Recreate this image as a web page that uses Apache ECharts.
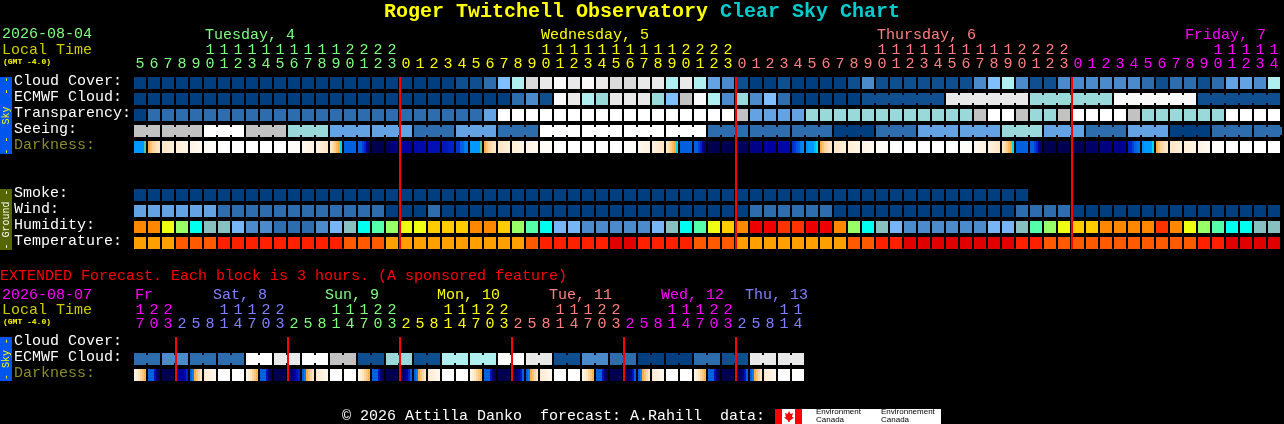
<!DOCTYPE html>
<html><head><meta charset="utf-8">
<style>html,body{margin:0;padding:0;background:#000}#c{width:1284px;height:424px}</style>
<script src="https://cdn.jsdelivr.net/npm/echarts@6/dist/echarts.min.js"></script>
</head><body><div id="c"></div>
<script>
const rowNames=['Cloud Cover:','ECMWF Cloud:','Transparency:','Seeing:','Darkness:',' ','  ','Smoke:','Wind:','Humidity:','Temperature:'];
const hourDigits=[5,6,7,8,9,0,1,2,3,4,5,6,7,8,9,0,1,2,3,0,1,2,3,4,5,6,7,8,9,0,1,2,3,4,5,6,7,8,9,0,1,2,3,0,1,2,3,4,5,6,7,8,9,0,1,2,3,4,5,6,7,8,9,0,1,2,3,0,1,2,3,4,5,6,7,8,9,0,1,2,3,4];
const hourTens=['','','','','',1,1,1,1,1,1,1,1,1,1,2,2,2,2,'','','','','','','','','','',1,1,1,1,1,1,1,1,1,1,2,2,2,2,'','','','','','','','','','',1,1,1,1,1,1,1,1,1,1,2,2,2,2,'','','','','','','','','','',1,1,1,1,1];
const midnights=[19,43,67];
const dayLabels=['Tuesday, 4','Wednesday, 5','Thursday, 6','Friday, 7'];
const dayLabelCells=[5,29,53,75];
const cloudCover=[0,0,0,0,0,0,0,0,0,0,0,0,0,0,0,0,0,0,0,0,0,0,0,1,1,2,5,7,9,10,11,10,11,10,9,9,10,10,7,10,7,4,3,1,0,0,1,0,0,0,0,1,3,1,1,1,1,1,1,1,3,5,7,3,1,1,3,3,3,3,3,3,2,1,2,2,1,2,4,4,3,7];
const ecmwfCloud=[0,0,0,0,0,0,0,0,0,0,0,0,0,0,0,0,0,0,0,0,0,0,0,0,0,0,0,2,3,1,11,10,7,6,10,10,10,6,5,8,11,7,3,6,3,5,2,0,0,0,0,0,1,1,1,1,1,1,10,10,10,10,10,10,6,6,6,6,6,6,11,11,11,11,11,11,1,1,1,1,1,1];
const ecmwfBlocks=[1,1,1,1,1,1,1,1,1,1,1,1,1,1,1,1,1,1,1,1,1,1,1,1,1,1,1,1,1,1,1,1,1,1,1,1,1,1,1,1,1,1,1,1,1,1,1,1,1,1,1,1,6,6,6,6,6];
const transparency=[0,2,2,2,2,2,2,2,2,2,2,2,2,2,2,2,2,2,2,2,2,2,2,2,2,4,12,12,12,12,12,12,12,12,12,12,12,12,12,12,12,12,12,8,4,4,4,4,6,6,6,6,6,6,6,6,6,6,6,6,8,12,12,8,6,6,8,12,12,12,12,8,6,6,6,6,6,6,12,12,12,12];
const seeing=[8,8,8,8,8,12,12,12,8,8,8,6,6,6,4,4,4,4,4,4,2,2,2,4,4,4,2,2,2,12,12,12,12,12,12,12,12,12,12,12,12,2,2,2,2,2,2,2,2,2,0,0,0,2,2,2,4,4,4,4,4,4,6,6,6,4,4,4,2,2,2,4,4,4,0,0,0,2,2,2,2,2];
const seeingBlocks=[2,3,3,3,3,3,3,3,3,3,3,3,3,3,3,3,3,3,3,3,3,3,3,3,3,3,3,3,2];
const smoke=[0,0,0,0,0,0,0,0,0,0,0,0,0,0,0,0,0,0,0,0,0,0,0,0,0,0,0,0,0,0,0,0,0,0,0,0,0,0,0,0,0,0,0,0,0,0,0,0,0,0,0,0,0,0,0,0,0,0,0,0,0,0,0,0];
const wind=[4,4,4,4,4,4,2,2,2,2,2,2,2,2,2,2,2,2,0,0,0,2,0,0,0,0,0,0,0,0,0,0,0,0,0,0,0,0,0,0,0,0,0,0,2,2,2,2,2,2,0,0,0,0,0,0,0,0,0,0,0,0,0,2,2,2,2,0,0,0,0,0,0,0,0,0,0,0,0,0,0,0];
const humidity=[80,80,70,65,55,50,50,45,40,40,35,35,35,40,45,50,55,60,65,70,70,75,75,75,80,80,75,65,60,55,45,45,40,40,40,40,40,45,50,55,60,70,75,80,95,95,85,85,95,95,80,65,55,50,45,40,40,40,40,40,40,45,45,50,60,65,70,75,75,80,80,80,80,85,80,70,65,60,55,55,50,50];
const temperature=[25,25,25,23,23,23,21,21,21,21,21,21,21,21,21,23,23,23,25,25,25,25,25,25,25,25,25,25,23,21,21,21,21,21,19,19,21,21,21,21,23,23,23,25,25,25,25,25,25,25,25,23,23,21,21,19,19,19,19,19,19,19,19,21,21,23,23,23,23,23,23,23,23,23,23,23,21,21,19,19,19,19];
const darkness=[
[6,6,6,6,6,4.5],[3.6,3,2.6,2.3,2.1,2],[2,2,1.8,1.6,1.5,1.4],[1.4,1.3,1.2,1.1,1,1],[1,.9,.8,.7,.6,.5],[.3],[0],[0],[0],[0],[0],[.2],
[.6,.7,.8,.9,1,1.1],[1.2,1.4,1.5,1.6,1.8,2],[2,2.3,2.8,3.3,3.8,5],[7],[7,7,7.5,8,9,9.6],[10],[9.8,9.7,9.6,9.5,9.4,9.3],[9],[8.7],[8.5],[8.3,8.3,8.2,8.1,8,8],[7.7,7.7,7,7,6.5,6.5],
[6,6,6,6,6,4.5],[3.6,3,2.6,2.3,2.1,2],[2,2,1.8,1.6,1.5,1.4],[1.4,1.3,1.2,1.1,1,1],[1,.9,.8,.7,.6,.5],[.3],[0],[0],[0],[0],[0],[.2],
[.6,.7,.8,.9,1,1.1],[1.2,1.4,1.5,1.6,1.8,2],[2,2.3,2.8,3.3,3.8,5],[7],[7,7,7.5,8,9,9.6],[10],[10],[9.8],[9.3],[9],[8.8],[7.8,7.6,7.2,7,6.5,6.3],
[6.2,6,6,6,5.5,5],[3.6,3,2.6,2.3,2.1,2],[2,2,1.8,1.6,1.5,1.4],[1.4,1.3,1.2,1.1,1,1],[1,.9,.8,.7,.6,.5],[.3],[0],[0],[0],[0],[0],[.2],
[.6,.7,.8,.9,1,1.1],[1.2,1.4,1.5,1.6,1.8,2],[2,2.3,2.8,3.3,3.8,5],[7],[7,7,7.5,8,9,9.6],[10],[10],[9.9],[9.7],[9.4],[9.2],[8,8,7.5,7,6.8,6.6],
[6.2,6,6,6,6,5],[3.6,3,2.6,2.3,2.1,2],[2,2,1.8,1.6,1.5,1.4],[1.4,1.3,1.2,1.1,1,1],[1,.9,.8,.7,.6,.5],[.2],[0],[0],[0],[0]];

const extRowNames=['Cloud Cover:','ECMWF Cloud:','Darkness:'];
const extHourDigits=[7,0,3,2,5,8,1,4,7,0,3,2,5,8,1,4,7,0,3,2,5,8,1,4,7,0,3,2,5,8,1,4,7,0,3,2,5,8,1,4,7,0,3,2,5,8,1,4];
const extHourTens=[1,2,2,'','','',1,1,1,2,2,'','','',1,1,1,2,2,'','','',1,1,1,2,2,'','','',1,1,1,2,2,'','','',1,1,1,2,2,'','','',1,1];
const extMidnights=[3,11,19,27,35,43];
const extDayLabels=['Fr','Sat, 8','Sun, 9','Mon, 10','Tue, 11','Wed, 12','Thu, 13'];
const extDayCells=[0,5,13,21,29,37,43];
const extEcmwf=[2,2,3,3,2,2,2,2,12,12,10,10,12,12,8,8,1,1,6,6,1,1,7,7,7,7,12,12,10,10,1,1,3,3,2,2,0,0,0,0,2,2,1,1,10,10,10,10];
const extBlocks=[2,2,2,2,2,2,2,2,2,2,2,2,2,2,2,2,2,2,2,2,2,2,2,2];
const extDarkness=[
[1,1.5,2,2.5,3,3.5],[7,7,7,8.5,9.5,10],[10],[9.5,9,9,9,8.8,8],[7,6.5,3.6,3,2.5,2],[1.6,1.4,1.2,1,.8,.7],[0],[.1],
[1,1.5,2,2.5,3,3.5],[7,7,7,8.5,9.5,10],[10],[10,9.7,9.5,9,8.5,8],[7,6.5,3.6,3,2.5,2],[1.6,1.4,1.2,1,.8,.7],[0],[.1],
[1,1.5,2,2.5,3,3.5],[7,7,7,8.5,9.5,10],[10],[10,9.8,9.5,9,8,7],[7,6.5,3.6,3,2.5,2],[1.6,1.4,1.2,1,.8,.7],[0],[.1],
[1,1.5,2,2.5,3,3.5],[7,7,7,8.5,9.5,10],[10],[10,10,9.7,9.3,8.5,7],[7,6.5,3.6,3,2.5,2],[1.6,1.4,1.2,1,.8,.7],[0],[.1],
[1,1.5,2,2.5,3,3.5],[7,7,7,8.5,9.5,10],[10],[10,10,9.8,9.5,8.5,7],[7,6.5,3.6,3,2.5,2],[1.6,1.4,1.2,1,.8,.7],[0],[.1],
[1,1.5,2,2.5,3,3.5],[7,7,7,8.5,9.5,10],[10],[10,10,9.8,9.5,8.5,7],[7,6.5,3.6,3,2.5,2],[1.6,1.4,1.2,1,.8,.7],[0],[.1]];

/* colour scales */
const cloudColors=['#003F7F','#0F4F8F','#2D6DAD','#4B8BCB','#63A3E3','#7FBFFF','#99D9D9','#AFEFEF','#C2C2C2','#DADADA','#E9E9E9','#F9F9F9','#FFFFFF'];
const humidityColors={35:'#2D6DAD',40:'#4B8BCB',45:'#77B5F5',50:'#88BFBF',55:'#00FFEE',60:'#55FFAA',65:'#99FF66',70:'#EEFF11',75:'#FFCC00',80:'#FF8800',85:'#FF3300',95:'#EE0000'};
const temperatureColors={25:'#FFA000',23:'#FF5A00',21:'#FF2000',19:'#E00000'};
const darkScale=[[0,[255,255,255]],[1,[255,243,228]],[2,[255,230,198]],[3,[255,196,120]],[4,[255,160,32]],[4.5,[88,196,152]],[5,[0,216,240]],[6,[0,153,255]],[7,[0,96,224]],[8,[0,32,200]],[9,[0,0,160]],[10,[0,0,80]]];
function darkColor(v){
  if(v<=0)return 'rgb(255,255,255)';
  for(let i=1;i<darkScale.length;i++){
    if(v<=darkScale[i][0]){
      const a=darkScale[i-1],b=darkScale[i],t=(v-a[0])/(b[0]-a[0]);
      return 'rgb('+a[1].map((c,j)=>Math.round(c+(b[1][j]-c)*t)).join(',')+')';
    }
  }
  return 'rgb(0,0,80)';
}
function dayColorFrom(starts,colors){return k=>{let c=colors[0];starts.forEach((s,i)=>{if(k>=s)c=colors[i];});return c;};}
const topColor=dayColorFrom([0,19,43,67],['#80FF80','#FFFF00','#FF8080','#FF00FF']);
const extColor=dayColorFrom([0,3,11,19,27,35,43],['#FF00FF','#8080FF','#80FF80','#FFFF00','#FF8080','#FF00FF','#8080FF']);

const MONO='"Liberation Mono",monospace';
const FONT='15px '+MONO;

function blockLinks(blocks){const links=[];blocks.forEach(n=>{for(let i=0;i<n;i++)links.push(i<n-1);});return links;}

function levelSeries(values,row,colorOf,grid,links){
  return {type:'custom',xAxisIndex:grid,yAxisIndex:grid,silent:true,animation:false,
    data:values.map((v,k)=>[k,row,v]),
    renderItem(p,api){
      const c=api.coord([api.value(0),api.value(1)]),s=api.size([1,1]);
      const w=s[0]-2,h=s[1]-4,fill=colorOf(api.value(2));
      const kids=[{type:'rect',shape:{x:c[0]-w/2,y:c[1]-h/2,width:w,height:h},style:{fill}}];
      if(links&&links[p.dataIndex])kids.push({type:'rect',shape:{x:c[0]+w/2,y:c[1]-h/2+2,width:s[0]-w,height:h-4},style:{fill}});
      return {type:'group',children:kids};
    }};
}
function darkSeries(list,row,grid){
  return {type:'custom',xAxisIndex:grid,yAxisIndex:grid,silent:true,animation:false,
    data:list.map((v,k)=>[k,row]),
    renderItem(p,api){
      const c=api.coord([api.value(0),api.value(1)]),s=api.size([1,1]);
      const w=s[0]-2,h=s[1]-4,bands=list[p.dataIndex],bw=w/bands.length;
      return {type:'group',children:bands.map((b,i)=>({type:'rect',
        shape:{x:c[0]-w/2+i*bw,y:c[1]-h/2,width:bw,height:h},style:{fill:darkColor(b)}}))};
    }};
}
function midnightSeries(cells,grid){
  return {type:'custom',xAxisIndex:grid,yAxisIndex:grid,silent:true,animation:false,z:5,clip:false,
    data:cells.map(k=>[k,0]),
    renderItem(p,api){
      const c=api.coord([api.value(0),0]),s=api.size([1,1]),box=p.coordSys;
      return {type:'rect',shape:{x:c[0]-s[0]/2,y:box.y+2,width:2,height:box.height-4},style:{fill:'#FF0000'}};
    }};
}
function textSeries(cells,texts,colorOf,grid,rise,align,dxOf){
  return {type:'custom',xAxisIndex:grid,yAxisIndex:grid,silent:true,animation:false,clip:false,
    data:cells.map(k=>[k,0]),
    renderItem(p,api){
      const k=api.value(0),c=api.coord([k,0]);
      return {type:'text',style:{text:String(texts[p.dataIndex]),x:c[0]+dxOf(k),y:p.coordSys.y-rise,
        fill:colorOf(k),font:FONT,textAlign:align,textVerticalAlign:'bottom'}};
    }};
}
function hiddenAxisY(names,colors){
  return {type:'category',inverse:true,data:names,axisLine:{show:false},axisTick:{show:false},splitLine:{show:false},
    axisLabel:{show:true,interval:0,align:'left',margin:119,verticalAlign:'bottom',lineHeight:4,fontFamily:MONO,fontSize:15,color:(v)=>v==='Darkness:'?'#8C8C28':'#FFFFFF'}};
}
function hourAxis(digits,colorOf,grid){
  return {type:'category',position:'top',gridIndex:grid,data:digits.map(String),axisLine:{show:false},axisTick:{show:false},splitLine:{show:false},
    axisLabel:{show:true,interval:0,margin:3,fontFamily:MONO,fontSize:15,color:(v,i)=>colorOf(i)}};
}
function sideBar(y,h,fill,text,color){
  return [{type:'rect',shape:{x:0,y,width:12,height:h},style:{fill},silent:true},
    {type:'text',x:6,y:y+h/2,rotation:Math.PI/2,silent:true,style:{text,fill:color,font:'10px '+MONO,textAlign:'center',textVerticalAlign:'middle'}}];
}
function plain(x,y,text,fill,font){return {type:'text',x,y,silent:true,style:{text,fill,font:font||FONT,textVerticalAlign:'bottom'}};}

const chart=echarts.init(document.getElementById('c'),null,{renderer:'canvas',width:1284,height:424});
chart.setOption({
  backgroundColor:'#000',animation:false,
  title:{left:384,top:2,padding:0,text:'{a|Roger Twitchell Observatory }{b|Clear Sky Chart}',
    textStyle:{rich:{a:{color:'#FFFF00',fontFamily:MONO,fontSize:20,fontWeight:'bold'},b:{color:'#00CCCC',fontFamily:MONO,fontSize:20,fontWeight:'bold'}}}},
  grid:[{left:133,top:75,width:1148,height:176,containLabel:false},{left:133,top:335,width:672,height:48}],
  xAxis:[hourAxis(hourDigits,topColor,0),hourAxis(extHourDigits,extColor,1)],
  yAxis:[Object.assign(hiddenAxisY(rowNames),{gridIndex:0}),Object.assign(hiddenAxisY(extRowNames),{gridIndex:1})],
  series:[
    levelSeries(cloudCover,0,v=>cloudColors[v],0),
    levelSeries(ecmwfCloud,1,v=>cloudColors[v],0,blockLinks(ecmwfBlocks)),
    levelSeries(transparency,2,v=>cloudColors[v],0),
    levelSeries(seeing,3,v=>cloudColors[v],0,blockLinks(seeingBlocks)),
    darkSeries(darkness,4,0),
    levelSeries(smoke,7,v=>cloudColors[v],0),
    levelSeries(wind,8,v=>cloudColors[v],0),
    levelSeries(humidity,9,v=>humidityColors[v],0),
    levelSeries(temperature,10,v=>temperatureColors[v],0),
    midnightSeries(midnights,0),
    textSeries(hourDigits.map((d,k)=>k),hourTens,topColor,0,17,'center',()=>0),
    textSeries(dayLabelCells,dayLabels,topColor,0,32,'left',()=>-5),
    levelSeries(extEcmwf,1,v=>cloudColors[v],1,blockLinks(extBlocks)),
    darkSeries(extDarkness,2,1),
    midnightSeries(extMidnights,1),
    textSeries(extHourDigits.map((d,k)=>k),extHourTens,extColor,1,17,'center',()=>0),
    textSeries(extDayCells,extDayLabels,extColor,1,32,'left',k=>k===0?-5:3)
  ],
  graphic:[
    plain(2,42,'2026-08-04','#80FF80'),
    plain(2,58,'Local Time','#CCCC00'),
    plain(3,66,'(GMT -4.0)','#FFFF00','bold 8px '+MONO),
    plain(0,284,'EXTENDED Forecast. Each block is 3 hours. (A sponsored feature)','#FF0000'),
    plain(2,303,'2026-08-07','#FF00FF'),
    plain(2,318,'Local Time','#CCCC00'),
    plain(3,326,'(GMT -4.0)','#FFFF00','bold 8px '+MONO),
    ...sideBar(77,77,'#0055EE','- -  Sky  - -','#FFFF00'),
    ...sideBar(189,61,'#556600','- Ground -','#FFFFFF'),
    ...sideBar(337,44,'#0055EE','- Sky -','#FFFF00'),
    plain(342,424,'\u00A9 2026 Attilla Danko  forecast: A.Rahill  data:','#FFFFFF'),
    {type:'rect',shape:{x:775,y:409,width:166,height:15},style:{fill:'#FFFFFF'},silent:true},
    {type:'rect',shape:{x:775,y:409,width:7,height:15},style:{fill:'#FF0000'},silent:true},
    {type:'rect',shape:{x:795,y:409,width:7,height:15},style:{fill:'#FF0000'},silent:true},
    {type:'polygon',shape:{points:[[789,411],[790.5,414],[793,413],[792,417],[794,417.5],[790,420.5],[789.5,422],[788.5,422],[788,420.5],[784,417.5],[786,417],[785,413],[787.5,414]]},style:{fill:'#FF0000'},silent:true},
    plain(816,416,'Environment','#000000','8px "Liberation Sans",sans-serif'),
    plain(816,424,'Canada','#000000','8px "Liberation Sans",sans-serif'),
    plain(881,416,'Environnement','#000000','8px "Liberation Sans",sans-serif'),
    plain(881,424,'Canada','#000000','8px "Liberation Sans",sans-serif')
  ]
});
</script></body></html>
